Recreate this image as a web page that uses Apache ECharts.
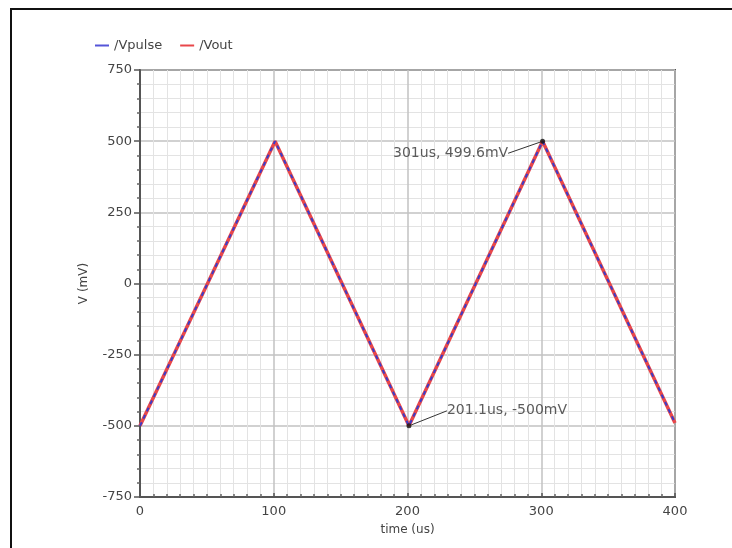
<!DOCTYPE html>
<html>
<head>
<meta charset="utf-8">
<script src="https://cdn.jsdelivr.net/npm/echarts@6/dist/echarts.min.js"></script>
<style>
  html, body { margin: 0; padding: 0; background: #fff; }
  #chart { position: absolute; left: 0; top: 0; width: 732px; height: 548px; }
  #frame { position: absolute; left: 10px; top: 8px; width: 740px; height: 560px;
           border: 2px solid #111; box-sizing: border-box; pointer-events: none; }
</style>
</head>
<body>
<div id="chart"></div>
<div id="frame"></div>
<script>
// Triangle waveform samples: time (us) and voltage (mV)
const timeUs   = [0, 1, 101, 201.1, 301, 400];
const vpulseMv = [-500, -500, 500, -500, 499.6, -490];
const voutMv   = [-500, -500, 500, -500, 499.6, -490];

// Cursor readouts
const markerT = [301, 201.1];
const markerV = [499.6, -500];
const markerText = ['301us, 499.6mV', '201.1us, -500mV'];
// label offsets from each cursor point (px)
const markerDx = [-92, 98];
const markerDy = [12, -15];

const xTicks = [0, 100, 200, 300, 400];
const yTicks = [-750, -500, -250, 0, 250, 500, 750];

const pairs = (xs, ys) => xs.map((x, i) => [x, ys[i]]);

const FONT = 'DejaVu Sans';
const chart = echarts.init(document.getElementById('chart'));

chart.setOption({
  animation: false,
  backgroundColor: '#fff',
  textStyle: { fontFamily: FONT },
  legend: {
    left: 90, top: 34,
    itemWidth: 14, itemHeight: 2, itemGap: 18,
    icon: 'rect',
    textStyle: { fontSize: 13, color: '#444', fontFamily: FONT },
    data: ['/Vpulse', '/Vout']
  },
  grid: { left: 140, right: 57, top: 70, bottom: 51, show: true,
          borderColor: '#555', borderWidth: 2, backgroundColor: 'transparent' },
  xAxis: {
    type: 'value',
    min: xTicks[0], max: xTicks[xTicks.length - 1], interval: 100,
    name: 'time (us)', nameLocation: 'middle', nameGap: 27,
    nameTextStyle: { fontSize: 12, color: '#444', fontFamily: FONT },
    axisLine: { show: true, onZero: false, lineStyle: { color: '#555', width: 2 } },
    axisTick: { show: true, length: 4, inside: true, lineStyle: { color: '#555', width: 1.5 } },
    minorTick: { show: true, splitNumber: 10, length: 3, lineStyle: { color: '#666', width: 1.5 } },
    axisLabel: { fontSize: 13, color: '#444', margin: 8, fontFamily: FONT },
    splitLine: { show: true, lineStyle: { color: '#c2c2c2', width: 1.5 } },
    minorSplitLine: { show: true, lineStyle: { color: '#e3e3e3', width: 1 } }
  },
  yAxis: {
    type: 'value',
    min: yTicks[0], max: yTicks[yTicks.length - 1], interval: 250,
    name: 'V (mV)', nameLocation: 'middle', nameGap: 50, nameRotate: 90,
    nameTextStyle: { fontSize: 12, color: '#444', fontFamily: FONT },
    axisLine: { show: true, onZero: false, lineStyle: { color: '#555', width: 2 } },
    axisTick: { show: true, length: 6, lineStyle: { color: '#555', width: 1.5 } },
    minorTick: { show: true, splitNumber: 5, length: 3, lineStyle: { color: '#666', width: 1.5 } },
    axisLabel: { fontSize: 13, color: '#444', margin: 8, fontFamily: FONT },
    splitLine: { show: true, lineStyle: { color: '#c2c2c2', width: 1.5 } },
    minorSplitLine: { show: true, lineStyle: { color: '#e3e3e3', width: 1 } }
  },
  series: [
    {
      name: '/Vout', type: 'line', data: pairs(timeUs, voutMv),
      showSymbol: false, color: '#e8474a',
      lineStyle: { color: '#e8474a', width: 3.5 }, z: 2
    },
    {
      name: '/Vpulse', type: 'line', data: pairs(timeUs, vpulseMv),
      showSymbol: false, color: '#5555d8',
      lineStyle: { color: '#3c3cc8', width: 2, type: [4, 4] }, z: 3
    },
    {
      type: 'scatter',
      data: pairs(markerT, markerV).map((p, i) => ({ value: p, label: { formatter: markerText[i] } })),
      symbol: 'circle', symbolSize: 5, itemStyle: { color: '#111' }, z: 5,
      label: { show: true, position: 'inside', fontSize: 14, color: '#333', fontFamily: FONT },
      labelLayout: (params) => ({ dx: markerDx[params.dataIndex], dy: markerDy[params.dataIndex] }),
      labelLine: { show: true, lineStyle: { color: '#333', width: 1 } },
      silent: true
    }
  ]
});
</script>
</body>
</html>
